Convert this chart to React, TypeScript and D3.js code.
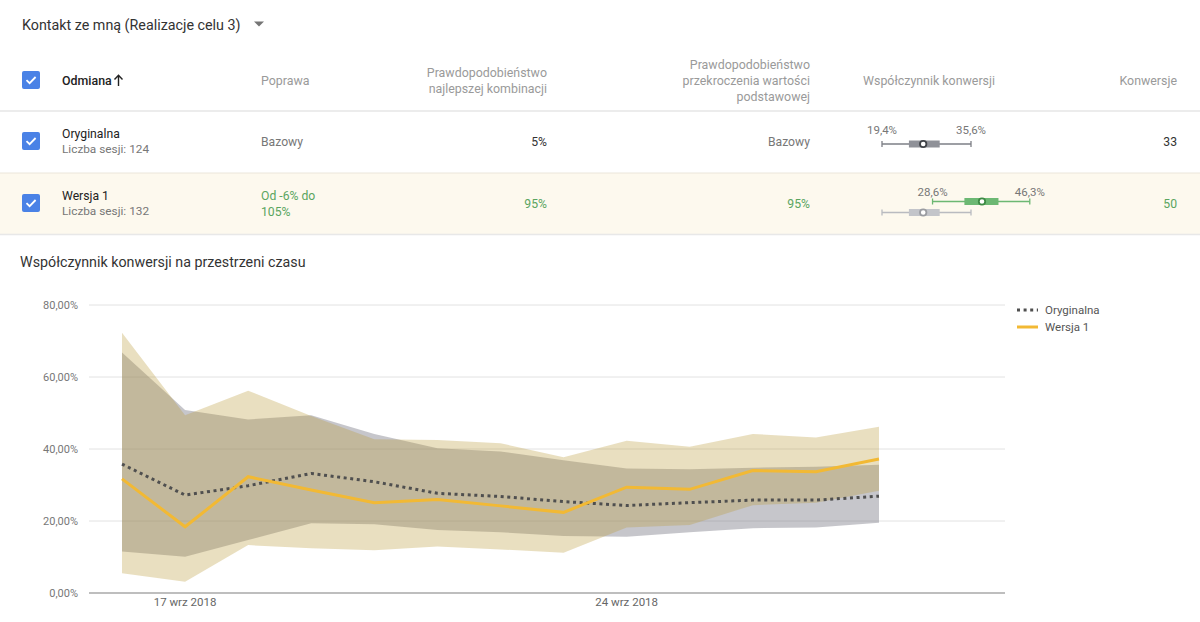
import React from 'react';
import * as d3 from 'd3';

// experiment summary table
const variantNames = ['Oryginalna', 'Wersja 1'];
const sessions = [124, 132];
const improvement = ['Bazowy', 'Od -6% do\n105%'];
const bestProb = ['5%', '95%'];
const beatBaseProb = ['Bazowy', '95%'];
const conversions = [33, 50];
// conversion-rate interval per variant: [low, q1, mid, q3, high] in %
const rateIntervals = [
  [19.4, 24.3, 26.9, 29.9, 35.6],
  [28.6, 34.4, 37.6, 40.6, 46.3],
];

// daily conversion rate over time (%)
const days = [
  '2018-09-16', '2018-09-17', '2018-09-18', '2018-09-19', '2018-09-20', '2018-09-21', '2018-09-22',
  '2018-09-23', '2018-09-24', '2018-09-25', '2018-09-26', '2018-09-27', '2018-09-28',
];
const origRate = [35.8, 27.2, 29.8, 33.2, 30.9, 27.7, 26.8, 25.4, 24.3, 25.1, 25.8, 25.8, 26.9];
const origLow = [11.5, 10.1, 14.7, 19.4, 19.1, 17.5, 16.9, 15.8, 15.6, 16.9, 18.0, 18.2, 19.5];
const origHigh = [66.8, 50.8, 48.2, 49.4, 44.2, 40.2, 39.3, 36.9, 34.6, 34.4, 34.8, 35.1, 35.6];
const v1Rate = [31.7, 18.4, 32.3, 28.6, 25.1, 26.0, 24.2, 22.4, 29.4, 28.8, 34.0, 33.7, 37.2];
const v1Low = [5.5, 3.1, 13.3, 12.4, 11.9, 12.9, 12.1, 11.2, 18.2, 18.9, 24.4, 25.1, 28.4];
const v1High = [72.3, 49.4, 56.2, 49.2, 42.7, 42.5, 41.6, 37.7, 42.3, 40.6, 44.2, 43.2, 46.2];
const yTicks = [0, 20, 40, 60, 80];
const xTickDays = ['2018-09-17', '2018-09-24'];
const xTickLabels = ['17 wrz 2018', '24 wrz 2018'];

const FONT = 'Roboto, "Noto Sans", sans-serif';
const GREEN = '#5aa55f';
const YELLOW = '#f2b934';
const HEAD = 12.4;
const CELL = 12.2;

const Checkbox: React.FC<{ x: number; y: number }> = ({ x, y }) => (
  <g transform={`translate(${x},${y})`}>
    <rect width={18} height={18} rx={2} fill="#4a82e6" />
    <path d="M4.5 9.2 L7.6 12.2 L13.6 6" fill="none" stroke="#fff" strokeWidth={1.8} />
  </g>
);

const App: React.FC = () => {
  const parse = d3.timeParse('%Y-%m-%d');
  const dates = days.map(d => parse(d) as Date);

  const x = d3.scaleTime().domain([dates[0], dates[dates.length - 1]]).range([122, 879]);
  const y = d3.scaleLinear().domain([0, 80]).range([593, 305]);

  const band = (low: number[], high: number[]) =>
    d3.area<number>()
      .x(i => x(dates[i]))
      .y0(i => y(low[i]))
      .y1(i => y(high[i]))(d3.range(dates.length)) || '';
  const line = (vals: number[]) =>
    d3.line<number>()
      .x(i => x(dates[i]))
      .y(i => y(vals[i]))(d3.range(dates.length)) || '';

  // small interval plot in the table
  const r = d3.scaleLinear().domain([19.4, 35.6]).range([882, 971]);
  const fmtPct = (v: number) => v.toFixed(1).replace('.', ',') + '%';

  const intervalMark = (iv: number[], cy: number, color: string, boxColor: string, ring: string) => (
    <g>
      <line x1={r(iv[0])} x2={r(iv[4])} y1={cy} y2={cy} stroke={color} strokeWidth={1.3} />
      <line x1={r(iv[0])} x2={r(iv[0])} y1={cy - 3} y2={cy + 3} stroke={color} strokeWidth={1.3} />
      <line x1={r(iv[4])} x2={r(iv[4])} y1={cy - 3} y2={cy + 3} stroke={color} strokeWidth={1.3} />
      <rect x={r(iv[1])} y={cy - 3.5} width={r(iv[3]) - r(iv[1])} height={7} fill={boxColor} />
      <circle cx={r(iv[2])} cy={cy} r={3.2} fill="#fff" stroke={ring} strokeWidth={1.8} />
    </g>
  );

  const rowTop = [111, 173];
  const rowH = 62;

  return (
    <div style={{ position: 'absolute', left: 0, top: 0 }}>
      <svg width={1200} height={622} style={{ display: 'block', fontFamily: FONT }}>
        <rect width={1200} height={622} fill="#fff" />

        {/* goal selector */}
        <text x={22} y={30} fontSize={14.3} fill="#333">Kontakt ze mną (Realizacje celu 3)</text>
        <path d="M254 21.5 L264 21.5 L259 26.5 Z" fill="#757575" />

        {/* header */}
        <Checkbox x={22} y={71} />
        <text x={62} y={85} fontSize={HEAD} fontWeight={500} fill="#222">Odmiana</text>
        <path d="M118.5 86 L118.5 75.5 M114.5 79.5 L118.5 75.3 L122.5 79.5" fill="none" stroke="#222" strokeWidth={1.4} />
        <text x={261} y={85} fontSize={HEAD} fill="#9a9a9a">Poprawa</text>
        <text x={547} y={77} fontSize={HEAD} fill="#9a9a9a" textAnchor="end">Prawdopodobieństwo</text>
        <text x={547} y={93} fontSize={HEAD} fill="#9a9a9a" textAnchor="end">najlepszej kombinacji</text>
        <text x={810} y={69} fontSize={HEAD} fill="#9a9a9a" textAnchor="end">Prawdopodobieństwo</text>
        <text x={810} y={85} fontSize={HEAD} fill="#9a9a9a" textAnchor="end">przekroczenia wartości</text>
        <text x={810} y={101} fontSize={HEAD} fill="#9a9a9a" textAnchor="end">podstawowej</text>
        <text x={863} y={85} fontSize={HEAD} fill="#9a9a9a">Współczynnik konwersji</text>
        <text x={1177} y={85} fontSize={HEAD} fill="#9a9a9a" textAnchor="end">Konwersje</text>

        {/* rows */}
        <rect x={0} y={rowTop[1]} width={1200} height={rowH} fill="#fdf9ee" />
        <line x1={0} x2={1200} y1={111} y2={111} stroke="#e6e6e6" strokeWidth={1.5} />
        <line x1={0} x2={1200} y1={173} y2={173} stroke="#ebe6da" strokeWidth={1} />
        <line x1={0} x2={1200} y1={234.5} y2={234.5} stroke="#e8e8e8" strokeWidth={1.5} />
        {variantNames.map((name, i) => {
          const top = rowTop[i];
          const isBase = i === 0;
          const valColor = isBase ? '#333' : GREEN;
          const lines = improvement[i].split('\n');
          return (
            <g key={name}>
              <Checkbox x={22} y={top + 21} />
              <text x={62} y={top + 27} fontSize={CELL} fill="#222">{name}</text>
              <text x={62} y={top + 42} fontSize={11.8} fill="#777">Liczba sesji: {sessions[i]}</text>
              {lines.length === 1 ? (
                <text x={261} y={top + 35} fontSize={CELL} fill="#777">{lines[0]}</text>
              ) : (
                lines.map((l, k) => (
                  <text key={k} x={261} y={top + 27 + k * 16} fontSize={CELL} fill={GREEN}>{l}</text>
                ))
              )}
              <text x={547} y={top + 35} fontSize={CELL} fill={valColor} textAnchor="end">{bestProb[i]}</text>
              <text x={810} y={top + 35} fontSize={CELL} fill={isBase ? '#777' : GREEN} textAnchor="end">{beatBaseProb[i]}</text>
              <text x={1177} y={top + 35} fontSize={CELL} fill={valColor} textAnchor="end">{conversions[i]}</text>
              <text x={r(rateIntervals[i][0])} y={top + 23} fontSize={11.5} fill="#777" textAnchor="middle">{fmtPct(rateIntervals[i][0])}</text>
              <text x={r(rateIntervals[i][4])} y={top + 23} fontSize={11.5} fill="#777" textAnchor="middle">{fmtPct(rateIntervals[i][4])}</text>
            </g>
          );
        })}
        {intervalMark(rateIntervals[0], 144, '#7d7f86', '#8f9198', '#3f4247')}
        {intervalMark(rateIntervals[1], 201.5, '#6cb873', '#6cb873', '#3d8a44')}
        {intervalMark(rateIntervals[0], 212.5, '#b9bbc0', '#c3c5ca', '#9a9ca1')}

        {/* time chart */}
        <text x={20} y={267} fontSize={14.25} fill="#333">Współczynnik konwersji na przestrzeni czasu</text>
        {yTicks.map(t => (
          <g key={t}>
            <line x1={89} x2={1005} y1={y(t)} y2={y(t)} stroke={t === 0 ? '#a8a8a8' : '#e2e2e2'} strokeWidth={t === 0 ? 1.5 : 1} />
            <text x={78} y={y(t) + 4} fontSize={11} fill="#777" textAnchor="end">{t.toFixed(2).replace('.', ',')}%</text>
          </g>
        ))}
        {xTickDays.map((d, i) => (
          <text key={d} x={x(parse(d) as Date)} y={606} fontSize={11.5} fill="#666" textAnchor="middle">{xTickLabels[i]}</text>
        ))}

        <path d={band(origLow, origHigh)} fill="rgba(118,118,130,0.42)" />
        <path d={band(v1Low, v1High)} fill="rgba(186,155,58,0.32)" />
        <path d={line(origRate)} fill="none" stroke="#4f4f4f" strokeWidth={3} strokeDasharray="3 3.6" />
        <path d={line(v1Rate)} fill="none" stroke={YELLOW} strokeWidth={3} />

        {/* legend */}
        <line x1={1017} x2={1038} y1={310} y2={310} stroke="#4f4f4f" strokeWidth={3} strokeDasharray="3 3.6" />
        <text x={1045} y={314} fontSize={11.5} fill="#555">{variantNames[0]}</text>
        <line x1={1017} x2={1038} y1={327} y2={327} stroke={YELLOW} strokeWidth={3} />
        <text x={1045} y={331} fontSize={11.5} fill="#555">{variantNames[1]}</text>
      </svg>
    </div>
  );
};

export default App;
